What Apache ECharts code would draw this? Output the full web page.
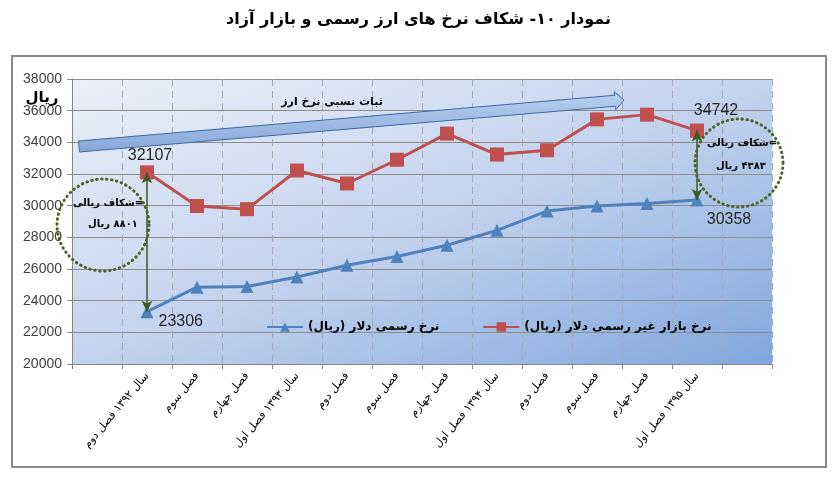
<!DOCTYPE html>
<html>
<head>
<meta charset="utf-8">
<script src="https://cdn.jsdelivr.net/npm/echarts@6/dist/echarts.min.js"></script>
<style>
  html, body { margin: 0; padding: 0; background: #fff; }
  #chart { width: 837px; height: 481px; }
</style>
</head>
<body>
<div id="chart"></div>
<script>
// quarters (first and last bands are left empty like the original sheet)
const categories = ['', 'سال ۱۳۹۲ فصل دوم', 'فصل سوم', 'فصل چهارم', 'سال ۱۳۹۳ فصل اول', 'فصل دوم', 'فصل سوم',
  'فصل چهارم', 'سال ۱۳۹۴ فصل اول', 'فصل دوم', 'فصل سوم', 'فصل چهارم', 'سال ۱۳۹۵ فصل اول', ''];
const officialRate = ['-', 23306, 24850, 24900, 25500, 26240, 26790, 27500, 28440, 29660, 29980, 30130, 30358, '-'];
const marketRate = ['-', 32107, 29980, 29780, 32220, 31400, 32900, 34550, 33230, 33500, 35450, 35750, 34742, '-'];
const yTicks = { min: 20000, max: 38000, step: 2000 };

const RLM = '\u200F';
const officialName = 'نرخ رسمی دلار (ریال)' + RLM;
const marketName = 'نرخ بازار غیر رسمی دلار (ریال)' + RLM;
const BLUE = '#4f81bd';
const RED = '#c0504d';
const GREEN = '#3b5a1f';
const FA = 'DejaVu Sans';
const NUM = 'Liberation Sans';

// value labels only on the points listed in `labels` (index -> label options)
const numLabel = { show: true, fontFamily: NUM, fontSize: 16, color: '#262626' };
function labelled(values, labels) {
  return values.map((v, i) => (labels[i] ? { value: v, label: Object.assign({}, numLabel, labels[i]) } : v));
}

// wide light-blue block arrow (tail -> tip)
function blockArrow(x1, y1, x2, y2, half, headHalf, headLen) {
  const len = Math.hypot(x2 - x1, y2 - y1);
  const ux = (x2 - x1) / len, uy = (y2 - y1) / len;
  const nx = -uy, ny = ux;
  const bx = x2 - ux * headLen, by = y2 - uy * headLen;
  return [
    [x1 - nx * half, y1 - ny * half],
    [bx - nx * half, by - ny * half],
    [bx - nx * headHalf, by - ny * headHalf],
    [x2, y2],
    [bx + nx * headHalf, by + ny * headHalf],
    [bx + nx * half, by + ny * half],
    [x1 + nx * half, y1 + ny * half],
  ];
}

const chart = echarts.init(document.getElementById('chart'));

const gapText = (x, y, txt) => ({
  type: 'text', x, y, z: 20,
  style: { text: txt, font: 'bold 10px ' + FA, fill: '#000', align: 'center', verticalAlign: 'middle' },
});
const dotCircle = (cx, cy, r) => ({
  type: 'circle', z: 20, shape: { cx, cy, r },
  style: { fill: 'none', stroke: '#4f6228', lineWidth: 3, lineDash: [0.5, 4.5], lineCap: 'round' },
});

chart.setOption({
  backgroundColor: '#fff',
  animation: false,
  title: {
    text: 'نمودار ۱۰- شکاف نرخ های ارز رسمی و بازار آزاد',
    left: 'center', top: 7,
    textStyle: { fontFamily: FA, fontSize: 16, fontWeight: 'bold', color: '#000' },
  },
  grid: {
    left: 72, right: 65, top: 79, bottom: 117,
    show: true, borderWidth: 0,
    // excel-like diagonal fill: light top-left, dark bottom-right
    backgroundColor: new echarts.graphic.LinearGradient(0, 0, 0.284, 1.716, [
      { offset: 0, color: '#ebf0f9' },
      { offset: 0.5, color: '#c3d3ee' },
      { offset: 1, color: '#80a7dd' },
    ]),
  },
  legend: {
    data: [officialName, marketName],
    left: 261, top: 316,
    itemWidth: 36, itemHeight: 12, itemGap: 43,
    textStyle: { fontFamily: FA, fontSize: 12, fontWeight: 'bold', color: '#000' },
  },
  xAxis: {
    type: 'category',
    data: categories,
    boundaryGap: true,
    axisLine: { lineStyle: { color: '#868686' } },
    axisTick: { show: true, length: 5, interval: 0, lineStyle: { color: '#868686' } },
    axisLabel: { interval: 0, rotate: 50, margin: 10, fontFamily: FA, fontSize: 11, color: '#000' },
    splitLine: { show: true, interval: 0, lineStyle: { color: '#a9a9a9', type: [7, 5] } },
  },
  yAxis: {
    type: 'value',
    min: yTicks.min, max: yTicks.max, interval: yTicks.step,
    axisLine: { show: true, lineStyle: { color: '#868686' } },
    axisTick: { show: true, length: 5, lineStyle: { color: '#868686' } },
    axisLabel: { margin: 10, fontFamily: NUM, fontSize: 14, color: '#404040', formatter: (v) => String(v) },
    splitLine: { lineStyle: { color: '#8c8c8c' } },
  },
  series: [
    {
      name: officialName,
      type: 'line',
      data: labelled(officialRate, {
        1: { position: 'right', offset: [0, 10] },
        12: { position: 'bottom', offset: [32, 0] },
      }),
      symbol: 'triangle', symbolSize: 13,
      lineStyle: { color: BLUE, width: 3 },
      itemStyle: { color: BLUE },
      z: 3,
    },
    {
      name: marketName,
      type: 'line',
      data: labelled(marketRate, {
        1: { position: 'top', distance: 2, offset: [3, 0] },
        12: { position: 'top', offset: [19, 0] },
      }),
      symbol: 'rect', symbolSize: 14,
      lineStyle: { color: RED, width: 3 },
      itemStyle: { color: RED },
      z: 4,
      markLine: {
        silent: true,
        symbol: ['arrow', 'arrow'], symbolSize: [8, 11],
        lineStyle: { color: GREEN, width: 1.5, type: 'solid' },
        label: { show: false },
        data: [
          [{ coord: [1, marketRate[1]] }, { coord: [1, officialRate[1]] }],
          [{ coord: [12, marketRate[12]] }, { coord: [12, officialRate[12]] }],
        ],
      },
    },
  ],
  graphic: [
    {
      type: 'rect', z: 0, silent: true,
      shape: { x: 12, y: 56, width: 814, height: 411 },
      style: { fill: 'none', stroke: '#898989', lineWidth: 2 },
    },
    {
      type: 'text', x: 42, y: 98, z: 20,
      style: { text: 'ریال', font: 'bold 15px ' + FA, fill: '#000', align: 'center', verticalAlign: 'middle' },
    },
    {
      type: 'polygon', z: 10,
      shape: { points: blockArrow(79, 146.5, 624, 100, 5.5, 9, 9) },
      style: {
        fill: new echarts.graphic.LinearGradient(0, 0, 0, 1, [
          { offset: 0, color: '#b9cfee' },
          { offset: 1, color: '#86a8d8' },
        ]),
        stroke: '#3f6aa6', lineWidth: 1,
      },
    },
    {
      type: 'text', x: 332, y: 102, z: 20,
      style: { text: 'ثبات نسبی نرخ ارز', font: 'bold 11px ' + FA, fill: '#000', align: 'center', verticalAlign: 'middle' },
    },
    dotCircle(103, 225, 46),
    gapText(108, 203, 'شکاف ریالی='),
    gapText(113, 224, RLM + '۸۸۰۱ ریال'),
    dotCircle(739, 163, 44),
    gapText(742, 143, 'شکاف ریالی='),
    gapText(741, 166, RLM + '۴۳۸۳ ریال'),
  ],
});
</script>
</body>
</html>
